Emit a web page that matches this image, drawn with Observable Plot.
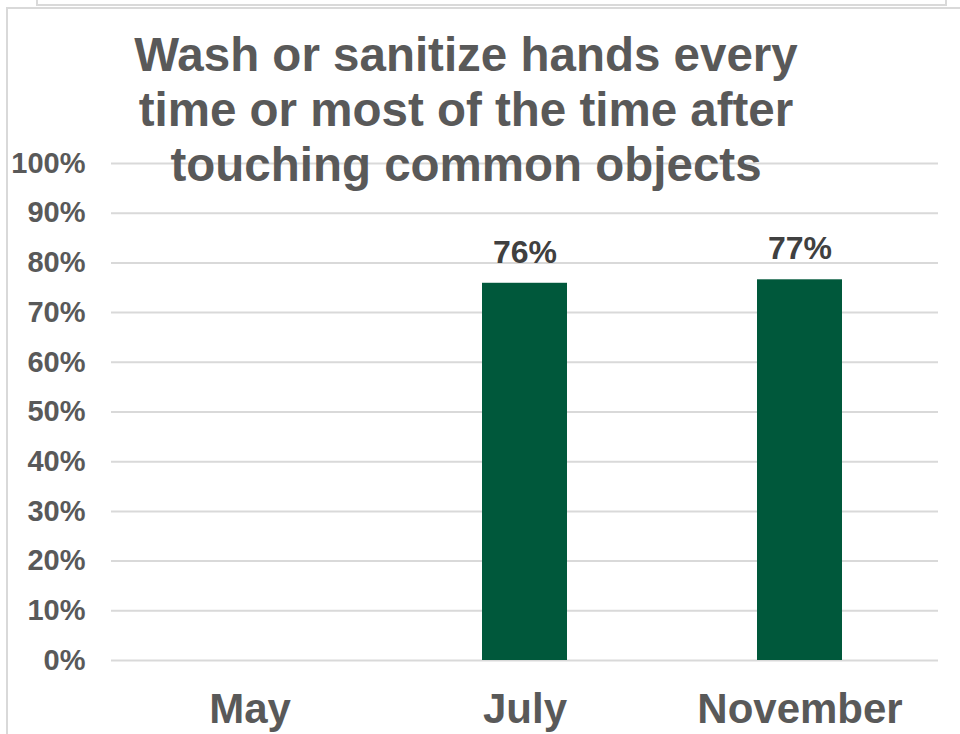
<!DOCTYPE html>
<html>
<head>
<meta charset="utf-8">
<script src="https://cdn.jsdelivr.net/npm/d3@7"></script>
<script src="https://cdn.jsdelivr.net/npm/@observablehq/plot@0.6"></script>
<style>
  html, body { margin: 0; padding: 0; background: #fff; }
  #wrap { position: relative; width: 960px; height: 734px; overflow: hidden; font-family: "Liberation Sans", Arial, sans-serif; }
  #title { position: absolute; left: 66px; width: 800px; top: 27px; text-align: center; font-size: 47.5px; line-height: 55px; font-weight: bold; color: #595959; z-index: 2; pointer-events: none; }
  .bx { position: absolute; border-color: #d9d9d9; border-style: solid; }
  svg { position: absolute; left: 0; top: 0; }
</style>
</head>
<body>
<div id="wrap">
  <div class="bx" style="left:36px; top:-4px; width:907px; height:8px; border-width:0 2px 2px 2px;"></div>
  <div class="bx" style="left:6px; top:7px; width:960px; height:740px; border-width:2px 0 0 2px;"></div>
  <div id="chart"></div>
  <div id="title">Wash or sanitize hands every<br>time or most of the time after<br>touching common objects</div>
</div>
<script>
const months = ["May", "July", "November"];
const shares = [null, 0.759, 0.766];
const yTicks = [0, 0.1, 0.2, 0.3, 0.4, 0.5, 0.6, 0.7, 0.8, 0.9, 1.0];

const data = months.map((m, i) => ({month: m, value: shares[i]}));
const present = data.filter(d => d.value != null);

const chart = Plot.plot({
  width: 960,
  height: 734,
  marginLeft: 111,
  marginRight: 22,
  marginTop: 163,
  marginBottom: 74,
  style: {fontFamily: "'Liberation Sans', Arial, sans-serif", background: "transparent"},
  x: {domain: months, padding: 0},
  y: {domain: [0, 1]},
  marks: [
    Plot.gridY(yTicks, {stroke: "#d9d9d9", strokeOpacity: 1, strokeWidth: 2}),
    Plot.axisY(yTicks, {tickSize: 0, tickPadding: 26, tickFormat: d3.format(".0%"), fontSize: 29, fontWeight: "bold", fill: "#595959", label: null}),
    Plot.axisX({tickSize: 0, tickPadding: 33, fontSize: 42, fontWeight: "bold", fill: "#595959", label: null}),
    Plot.barY(present, {x: "month", y: "value", fill: "#00583B", insetLeft: 95, insetRight: 95}),
    Plot.text(present, {x: "month", y: "value", text: d => d3.format(".0%")(d.value), lineAnchor: "middle", dy: -31, fontSize: 32, fontWeight: "bold", fill: "#404040"})
  ]
});
document.getElementById("chart").appendChild(chart);
</script>
</body>
</html>
